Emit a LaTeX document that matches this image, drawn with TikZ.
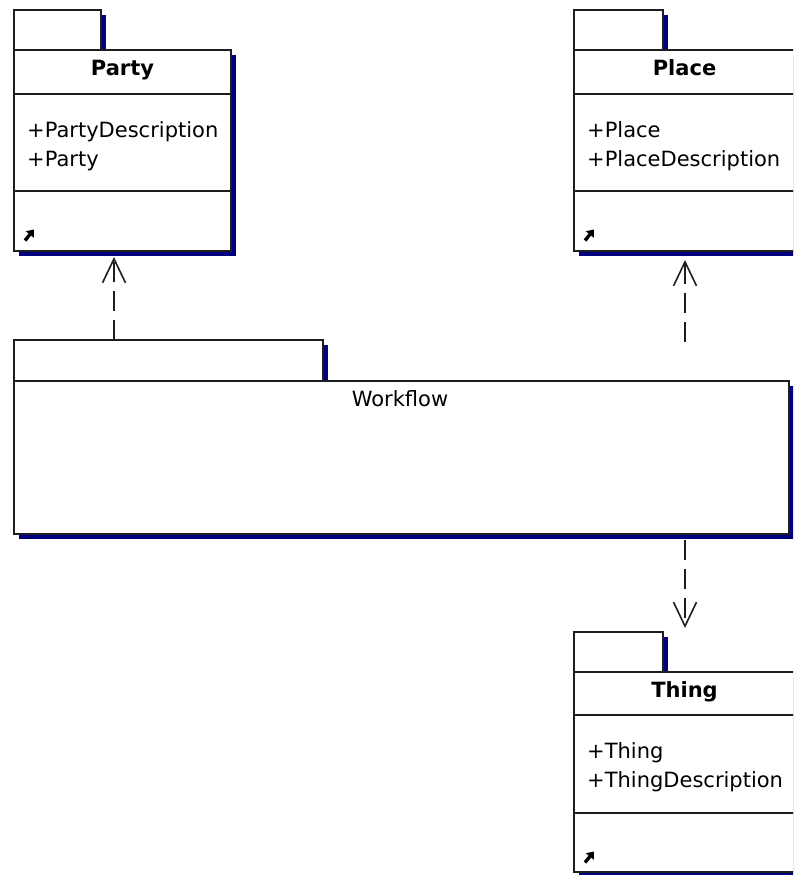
\documentclass[tikz,border=0pt]{standalone}
\usepackage{fontspec}
\setmainfont{DejaVu Sans}
\usetikzlibrary{arrows.meta,shadows}
\definecolor{umlnavy}{RGB}{0,0,128}
\definecolor{umlline}{RGB}{30,30,30}

\begin{document}
\begin{tikzpicture}[x=1pt,y=-1pt,
  font=\fontsize{21}{24}\selectfont,
  pkgshape/.style={draw=umlline, line width=1.6pt, fill=white, rectangle,
    inner sep=0pt, outer sep=0pt, anchor=north west,
    drop shadow={shadow xshift=4.5pt, shadow yshift=-5pt, fill=umlnavy, opacity=1}},
  pkgtitle/.style={anchor=base, inner sep=0pt, font=\fontsize{21}{24}\selectfont\bfseries},
  attr/.style={anchor=base west, inner sep=0pt},
  divider/.style={draw=umlline, line width=1.6pt},
  dep/.style={draw=umlline, line width=1.6pt, dash pattern=on 20pt off 9pt,
    -{Straight Barb[length=24pt, width=23pt, line width=1.6pt]}},
  opicon/.style={line width=3.4pt, -{Triangle[length=6.5pt, width=10pt]}}
]
\useasboundingbox (0,0) rectangle (793,875);
\clip (0,0) rectangle (793,875);

% ---------- Party ----------
\node[pkgshape, minimum width=87pt, minimum height=40pt] (partytab) at (14,10) {};
\node[pkgshape, minimum width=217pt, minimum height=201pt] (party) at (14,50) {};
\node[pkgtitle] (partyname) at (122.5,75) {Party};
\draw[divider] (14,94) -- (231,94);
\node[attr] (partyattr1) at (27,137) {+PartyDescription};
\node[attr] (partyattr2) at (27,166) {+Party};
\draw[divider] (14,191) -- (231,191);
\draw[opicon] (25,240.5) -- (34,229.5);

% ---------- Place ----------
\node[pkgshape, minimum width=89pt, minimum height=40pt] (placetab) at (574,10) {};
\node[pkgshape, minimum width=228pt, minimum height=201pt] (place) at (574,50) {};
\node[pkgtitle] (placename) at (684.5,75) {Place};
\draw[divider] (574,94) -- (802,94);
\node[attr] (placeattr1) at (587,137) {+Place};
\node[attr] (placeattr2) at (587,166) {+PlaceDescription};
\draw[divider] (574,191) -- (802,191);
\draw[opicon] (585,240.5) -- (594,229.5);

% ---------- Workflow ----------
\node[pkgshape, minimum width=309pt, minimum height=41pt] (wftab) at (14,340) {};
\node[pkgshape, minimum width=775pt, minimum height=153pt] (wf) at (14,381) {};
\node[anchor=base, inner sep=0pt] (wfname) at (400,406) {Workflow};

% ---------- Thing ----------
\node[pkgshape, minimum width=89pt, minimum height=40pt] (thingtab) at (574,632) {};
\node[pkgshape, minimum width=228pt, minimum height=200pt] (thing) at (574,672) {};
\node[pkgtitle] (thingname) at (684.5,697) {Thing};
\draw[divider] (574,715) -- (802,715);
\node[attr] (thingattr1) at (587,758) {+Thing};
\node[attr] (thingattr2) at (587,787) {+ThingDescription};
\draw[divider] (574,813) -- (802,813);
\draw[opicon] (585,862.5) -- (594,851.5);

% ---------- dependencies ----------
\coordinate (partydep) at (114,0);
\coordinate (rightdep) at (685,0);
\coordinate (placefree) at (685,342);
\draw[dep] (wftab.north -| partydep) -- ([yshift=-6pt]party.south -| partydep);
\draw[dep] (placefree) -- ([yshift=-9pt]place.south -| rightdep);
\draw[dep] ([yshift=-6pt]wf.south -| rightdep) -- ([yshift=4pt]thingtab.north -| rightdep);
\end{tikzpicture}
\end{document}
